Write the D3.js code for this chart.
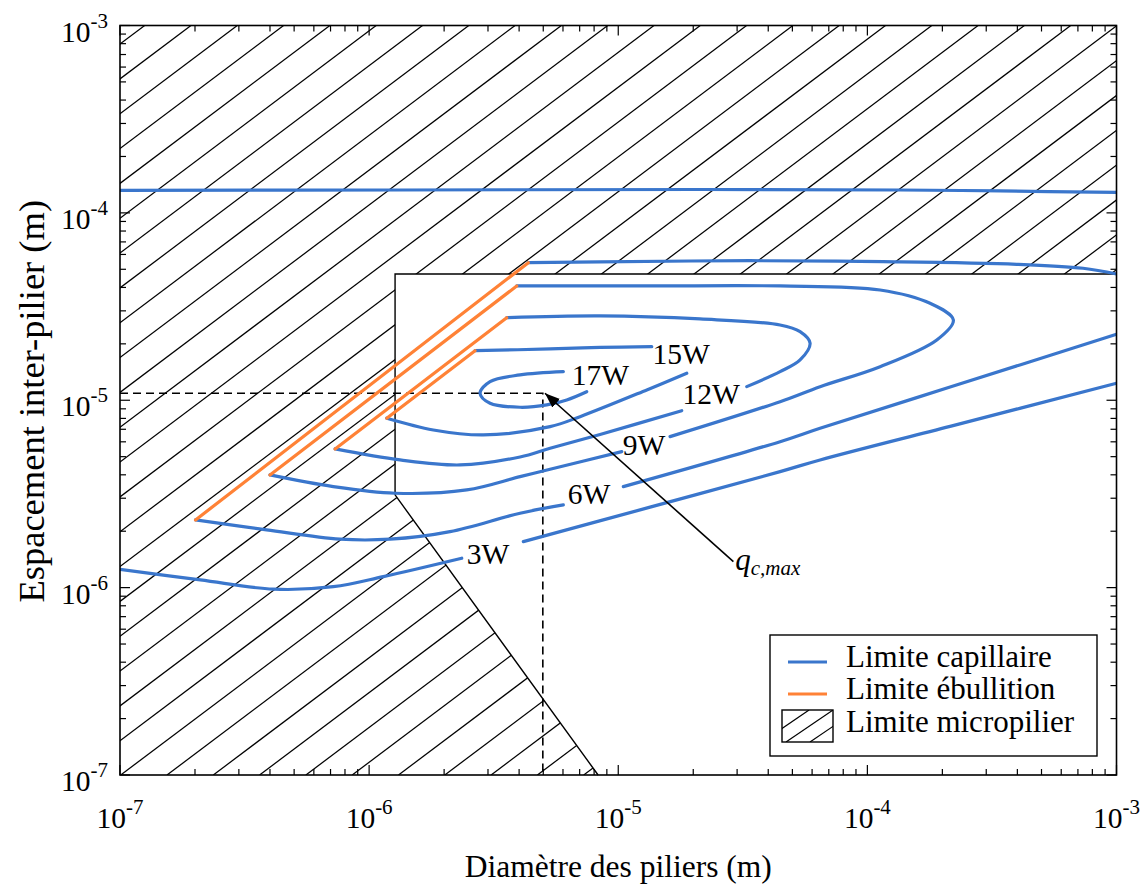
<!DOCTYPE html>
<html><head><meta charset="utf-8">
<script src="https://cdn.jsdelivr.net/npm/d3@7"></script>
<style>
body{margin:0;background:#fff;}
svg{display:block;font-family:"Liberation Serif","Times New Roman",serif;}
</style></head><body>
<svg id="c" width="1148" height="886"></svg>
<script>
// ---------- data ----------
const xDomain = [1e-7, 1e-3];
const yDomain = [1e-7, 1e-3];
const xTickExps = [-7, -6, -5, -4, -3];
const yTickExps = [-7, -6, -5, -4, -3];
const xTitle = "Diamètre des piliers (m)";
const yTitle = "Espacement inter-pilier (m)";
const legendLabels = ["Limite capillaire", "Limite ébullition", "Limite micropilier"];

// micropillar limit: boundary of the admissible (non hatched) region
const pillarD = [1.271e-6, 1e-3, 1e-3, 8.30e-6, 1.271e-6];
const pillarS = [4.72e-5, 4.72e-5, 1e-7, 1e-7, 3.126e-6];

// capillary limit contours [diameter, spacing]
const cap3Upper = [[1e-7,1.32e-4],[1.33e-6,1.325e-4],[2.13e-5,1.333e-4],[1.353e-4,1.325e-4],[3.41e-4,1.309e-4],[1e-3,1.285e-4]];
const cap3LowerA = [[1e-7,1.253e-6],[2.10e-7,1.099e-6],[4.13e-7,9.81e-7],[7.18e-7,1.012e-6],[1.14e-6,1.145e-6],[2.353e-6,1.435e-6]];
const cap3LowerB = [[4.159e-6,1.76e-6],[1.342e-5,2.689e-6],[4.463e-5,4.159e-6],[6.458e-5,4.802e-6],[2.148e-4,7.257e-6],[1e-3,1.232e-5]];
const cap6Upper = [[4.356e-6,5.424e-5],[8.453e-6,5.47e-5],[3.381e-5,5.557e-5],[1.156e-4,5.49e-5],[3.979e-4,5.317e-5],[7.343e-4,5.063e-5],[1e-3,4.721e-5]];
const cap6LowerA = [[2.01e-7,2.297e-6],[3.88e-7,2.032e-6],[7.64e-7,1.813e-6],[1.213e-6,1.813e-6],[2.112e-6,1.99e-6],[4.035e-6,2.495e-6],[6.02e-6,2.762e-6]];
const cap6LowerB = [[1.048e-5,3.459e-6],[4.463e-5,6.012e-6],[6.458e-5,7.088e-6],[2.148e-4,1.176e-5],[1e-3,2.25e-5]];
const cap9LowerA = [[4.0e-7,3.994e-6],[7.18e-7,3.459e-6],[1.27e-6,3.189e-6],[2.465e-6,3.321e-6],[4.035e-6,3.911e-6],[5.325e-6,4.283e-6],[1.033e-5,5.317e-6]];
const cap9Loop = [[1.614e-5,6.394e-6],[4.463e-5,9.829e-6],[6.458e-5,1.182e-5],[1.125e-4,1.511e-5],[1.899e-4,2.098e-5],[2.214e-4,2.682e-5],[1.785e-4,3.293e-5],[1.125e-4,3.878e-5],[4.463e-5,4.073e-5],[1.342e-5,4.073e-5],[3.913e-6,4.073e-5]];
const cap12LowerA = [[7.30e-7,5.497e-6],[1.331e-6,4.802e-6],[2.317e-6,4.515e-6],[4.035e-6,4.982e-6],[5.325e-6,5.545e-6],[8.453e-6,6.569e-6],[1.798e-5,8.799e-6]];
const cap12Loop = [[3.28e-5,1.182e-5],[4.463e-5,1.421e-5],[5.369e-5,1.641e-5],[5.888e-5,2.015e-5],[5.369e-5,2.323e-5],[4.463e-5,2.522e-5],[2.13e-5,2.715e-5],[8.453e-6,2.818e-5],[3.567e-6,2.759e-5]];
const cap15Upper = [[2.662e-6,1.839e-5],[5.325e-6,1.878e-5],[8.453e-6,1.913e-5],[1.363e-5,1.932e-5]];
const cap15Lower = [[1.177e-6,8.016e-6],[1.81e-6,6.942e-6],[2.874e-6,6.528e-6],[5.325e-6,7.228e-6],[7.025e-6,8.176e-6],[1.302e-5,1.135e-5],[1.884e-5,1.393e-5]];
const cap17Loop = [[6.02e-6,1.421e-5],[4.035e-6,1.365e-5],[3.058e-6,1.257e-5],[2.788e-6,1.09e-5],[3.058e-6,9.638e-6],[4.035e-6,9.175e-6],[5.165e-6,9.439e-6],[6.212e-6,1.004e-5],[7.472e-6,1.111e-5]];

// boiling limit segments
const boil6 = [[2.01e-7,2.297e-6],[4.356e-6,5.424e-5]];
const boil9 = [[4.0e-7,3.994e-6],[3.913e-6,4.073e-5]];
const boil12 = [[7.30e-7,5.497e-6],[3.567e-6,2.759e-5]];
const boil15 = [[1.177e-6,8.016e-6],[2.662e-6,1.839e-5]];

// contour labels
const contourLabels = ["3W", "6W", "9W", "12W", "15W", "17W"];
const contourLabelPos = [[3.0e-6,1.513e-6],[7.635e-6,3.162e-6],[1.269e-5,5.775e-6],[2.358e-5,1.08e-5],[1.787e-5,1.766e-5],[8.49e-6,1.365e-5]];

// optimum point and annotation
const qcMax = [4.98e-6, 1.09e-5];
const arrowTip = [5.08e-6, 1.09e-5];
const arrowTail = [2.899e-5, 1.376e-6];
const qLabelPos = [2.95e-5, 1.243e-6];

// ---------- drawing ----------
const BLUE = "#3a76cc", ORANGE = "#ff8236";
const L = 120, R = 1116.5, T = 25.5, B = 775;
const svg = d3.select("#c");
svg.append("rect").attr("width",1148).attr("height",886).attr("fill","#fff");
const x = d3.scaleLog().domain(xDomain).range([L, R]);
const y = d3.scaleLog().domain(yDomain).range([B, T]);

const defs = svg.append("defs");
// hatch clip: plot rect minus admissible polygon
const poly = pillarD.map((d,i)=>[x(d), y(pillarS[i])]);
const clipPath = `M${L},${T}H${R}V${B}H${L}Z M` + poly.map(p=>p.join(",")).join("L") + "Z";
defs.append("clipPath").attr("id","hatchClip").append("path")
  .attr("d", clipPath).attr("clip-rule","evenodd");
defs.append("clipPath").attr("id","plotClip").append("rect")
  .attr("x",L).attr("y",T).attr("width",R-L).attr("height",B-T);

const hatch = svg.append("g").attr("clip-path","url(#hatchClip)");
const slope = 0.7523, sp = 46.3, x0 = 120.7;
for (let k=-24; k<=24; k++) {
  const xb = x0 + k*sp;
  hatch.append("line").attr("x1",xb).attr("y1",B).attr("x2",xb+(B-T)/slope).attr("y2",T)
    .attr("stroke","#000").attr("stroke-width",1.25);
}
// admissible region edges
svg.append("path").attr("d", "M" + [poly[1],poly[0],poly[4],poly[3]].map(p=>p.join(",")).join("L"))
  .attr("fill","none").attr("stroke","#000").attr("stroke-width",1.4);

// dashed lines to q_c,max
svg.append("path")
  .attr("d", `M${x(xDomain[0])},${y(qcMax[1])}H${x(qcMax[0])}V${y(yDomain[0])}`)
  .attr("fill","none").attr("stroke","#000").attr("stroke-width",1.6).attr("stroke-dasharray","8,5");

const plot = svg.append("g").attr("clip-path","url(#plotClip)");
const line = d3.line().x(d=>x(d[0])).y(d=>y(d[1])).curve(d3.curveCatmullRom.alpha(0.5));
const capCurves = [cap3Upper,cap3LowerA,cap3LowerB,cap6Upper,cap6LowerA,cap6LowerB,cap9LowerA,cap9Loop,cap12LowerA,cap12Loop,cap15Upper,cap15Lower,cap17Loop];
capCurves.forEach(c=>plot.append("path").attr("d",line(c)).attr("fill","none")
  .attr("stroke",BLUE).attr("stroke-width",3.2).attr("stroke-linecap","round"));
const boilLines = [boil6, boil9, boil12, boil15];
boilLines.forEach(c=>plot.append("path").attr("d",d3.line().x(d=>x(d[0])).y(d=>y(d[1]))(c))
  .attr("fill","none").attr("stroke",ORANGE).attr("stroke-width",3.2).attr("stroke-linecap","round"));

// contour labels
contourLabels.forEach((t,i)=>{
  svg.append("text").attr("x",x(contourLabelPos[i][0])).attr("y",y(contourLabelPos[i][1]))
    .attr("dy","0.34em").attr("text-anchor","middle").attr("font-size",29.5).attr("fill","#000").text(t);
});

// arrow
defs.append("marker").attr("id","ah").attr("viewBox","0 0 10 10").attr("refX",10).attr("refY",5)
  .attr("markerWidth",15).attr("markerHeight",15).attr("markerUnits","userSpaceOnUse").attr("orient","auto")
  .append("path").attr("d","M0,1.2L10,5L0,8.8Z").attr("fill","#000");
svg.append("line").attr("x1",x(arrowTail[0])).attr("y1",y(arrowTail[1]))
  .attr("x2",x(arrowTip[0])).attr("y2",y(arrowTip[1]))
  .attr("stroke","#000").attr("stroke-width",1.6).attr("marker-end","url(#ah)");
const qt = svg.append("text").attr("x",x(qLabelPos[0])).attr("y",y(qLabelPos[1])).attr("font-style","italic");
qt.append("tspan").attr("font-size",31).text("q");
qt.append("tspan").attr("font-size",21).attr("dy",5).text("c,max");

// axes frame
svg.append("rect").attr("x",L).attr("y",T).attr("width",R-L).attr("height",B-T)
  .attr("fill","none").attr("stroke","#000").attr("stroke-width",1.6);

// ticks
const majorLen = 10, minorLen = 6;
const tg = svg.append("g").attr("stroke","#000").attr("stroke-width",1.2);
for (let e=-7; e<=-3; e++) {
  for (let m=1; m<=9; m++) {
    if (e===-3 && m>1) break;
    const v = m*Math.pow(10,e);
    const len = m===1 ? majorLen : minorLen;
    const px = x(v), py = y(v);
    tg.append("line").attr("x1",px).attr("x2",px).attr("y1",B).attr("y2",B-len);
    tg.append("line").attr("x1",px).attr("x2",px).attr("y1",T).attr("y2",T+len);
    tg.append("line").attr("y1",py).attr("y2",py).attr("x1",L).attr("x2",L+len);
    tg.append("line").attr("y1",py).attr("y2",py).attr("x1",R).attr("x2",R-len);
  }
}
function expLabel(sel, e){
  sel.append("tspan").attr("font-size",29.5).text("10");
  sel.append("tspan").attr("font-size",21).attr("dy",-14).text(String(e));
}
xTickExps.forEach(e=>{
  const t = svg.append("text").attr("x",x(Math.pow(10,e))).attr("y",828).attr("text-anchor","middle");
  expLabel(t,e);
});
yTickExps.forEach(e=>{
  const t = svg.append("text").attr("x",108).attr("y",y(Math.pow(10,e))+16).attr("text-anchor","end");
  expLabel(t,e);
});

// titles
svg.append("text").attr("x",(L+R)/2).attr("y",877).attr("text-anchor","middle").attr("font-size",31.5).text(xTitle);
svg.append("text").attr("transform",`translate(44,${(T+B)/2+1}) rotate(-90)`).attr("text-anchor","middle")
  .attr("font-size",36.5).text(yTitle);

// legend
const lg = svg.append("g");
lg.append("rect").attr("x",770).attr("y",635).attr("width",327).attr("height",121)
  .attr("fill","#fff").attr("stroke","#000").attr("stroke-width",1.4);
lg.append("line").attr("x1",788).attr("x2",827).attr("y1",662).attr("y2",662).attr("stroke",BLUE).attr("stroke-width",3.2);
lg.append("line").attr("x1",788).attr("x2",827).attr("y1",694).attr("y2",694).attr("stroke",ORANGE).attr("stroke-width",3.2);
defs.append("clipPath").attr("id","swClip").append("rect").attr("x",782).attr("y",710).attr("width",51).attr("height",32);
const sw = lg.append("g").attr("clip-path","url(#swClip)");
[762,786,810].forEach(xb=>sw.append("line").attr("x1",xb).attr("y1",742).attr("x2",xb+32/0.68).attr("y2",710)
  .attr("stroke","#000").attr("stroke-width",1.2));
lg.append("rect").attr("x",782).attr("y",710).attr("width",51).attr("height",32)
  .attr("fill","none").attr("stroke","#000").attr("stroke-width",1.4);
[667,699,731.5].forEach((by,i)=>lg.append("text").attr("x",846).attr("y",by).attr("font-size",31).text(legendLabels[i]));
</script>
</body></html>
